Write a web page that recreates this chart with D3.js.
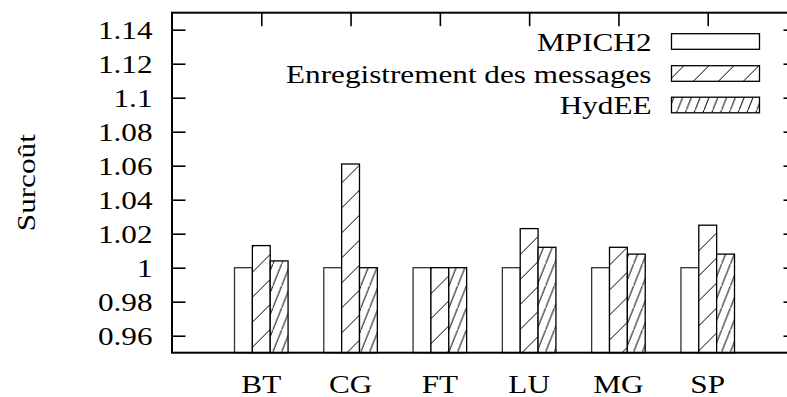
<!DOCTYPE html>
<html>
<head>
<meta charset="utf-8">
<script src="https://cdn.jsdelivr.net/npm/d3@7"></script>
<style>
  html, body { margin: 0; padding: 0; background: #fff; }
  svg { display: block; }
  text { font-family: "Liberation Serif", "Times New Roman", serif; fill: #000; }
</style>
</head>
<body>
<svg id="chart" width="787" height="397"></svg>
<script>
// Benchmarks and normalised overhead for each implementation
const categories = ["BT", "CG", "FT", "LU", "MG", "SP"];
const seriesNames = ["MPICH2", "Enregistrement des messages", "HydEE"];
const mpich2   = [1.000, 1.000, 1.000, 1.000, 1.000, 1.000];
const msgLog   = [1.013, 1.061, 1.000, 1.023, 1.012, 1.025];
const hydee    = [1.004, 1.000, 1.000, 1.012, 1.008, 1.008];
const yTickValues = [0.96, 0.98, 1.00, 1.02, 1.04, 1.06, 1.08, 1.10, 1.12, 1.14];
const yTickLabels = ["0.96", "0.98", "1", "1.02", "1.04", "1.06", "1.08", "1.1", "1.12", "1.14"];
const yTitle = "Surcoût";

const series = [mpich2, msgLog, hydee];

const svg = d3.select("#chart");
const plotL = 172, plotR = 797, plotT = 12.7, plotB = 352.7;
const FS = 26, SX = 1.2;   // serif text, slightly widened
const tickLen = 13.5;

const x = d3.scaleLinear().domain([-1, 6]).range([plotL, plotR]);
const y = d3.scaleLinear().domain([0.95, 1.15]).range([plotB, plotT]);
const barW = 0.2;

// Hatch patterns
const defs = svg.append("defs");
function hatch(id, w, h, ox, sw) {
  const p = defs.append("pattern")
    .attr("id", id).attr("patternUnits", "userSpaceOnUse")
    .attr("x", ox).attr("y", 0).attr("width", w).attr("height", h);
  p.append("rect").attr("width", w).attr("height", h).attr("fill", "#fff");
  p.append("path")
    .attr("d", `M${-w},${2 * h} L${2 * w},${-h}`)
    .attr("stroke", "#000").attr("stroke-width", sw).attr("fill", "none");
}
hatch("hatchSparse", 25, 25, -0.4, 1);
hatch("hatchDense", 8.8, 22, 0, 1);
const fills = ["#fff", "url(#hatchSparse)", "url(#hatchDense)"];
const strokes = ["#333", "#000", "#000"];

// Bars
series.forEach((vals, s) => {
  svg.append("g").selectAll("rect")
    .data(vals)
    .join("rect")
    .attr("x", (d, i) => x(i + (s - 1.5) * barW))
    .attr("width", x(barW) - x(0))
    .attr("y", d => y(d))
    .attr("height", d => y(0.95) - y(d))
    .attr("fill", fills[s])
    .attr("stroke", strokes[s])
    .attr("stroke-width", 1.3);
});

// Axes: ticks drawn inward on three sides
const axisStyle = g => {
  g.select(".domain").remove();
  g.selectAll("line").attr("stroke", "#000").attr("stroke-width", 1.6);
  g.selectAll("text").remove();
};
svg.append("g").attr("transform", `translate(${plotL},0)`)
  .call(d3.axisLeft(y).tickValues(yTickValues).tickSize(-tickLen).tickSizeOuter(0))
  .call(axisStyle);
svg.append("g").attr("transform", `translate(${plotR},0)`)
  .call(d3.axisRight(y).tickValues(yTickValues).tickSize(-tickLen).tickSizeOuter(0))
  .call(axisStyle);
svg.append("g").attr("transform", `translate(0,${plotT})`)
  .call(d3.axisTop(x).tickValues(d3.range(categories.length)).tickSize(-tickLen).tickSizeOuter(0))
  .call(axisStyle);

// Frame
svg.append("rect")
  .attr("x", plotL).attr("y", plotT)
  .attr("width", plotR - plotL).attr("height", plotB - plotT)
  .attr("fill", "none").attr("stroke", "#000").attr("stroke-width", 2);

// Y tick labels
svg.append("g").selectAll("text")
  .data(yTickValues)
  .join("text")
  .attr("transform", d => `translate(152.5,${y(d) + 9.5}) scale(${SX},1)`)
  .attr("text-anchor", "end")
  .attr("font-size", FS)
  .text((d, i) => yTickLabels[i]);

// X category labels
svg.append("g").selectAll("text")
  .data(categories)
  .join("text")
  .attr("transform", (d, i) => `translate(${x(i)},392.5) scale(${SX},1)`)
  .attr("text-anchor", "middle")
  .attr("font-size", FS)
  .text(d => d);

// Y axis title
svg.append("text")
  .attr("transform", `translate(35,${(plotT + plotB) / 2}) rotate(-90) scale(${SX},1)`)
  .attr("text-anchor", "middle")
  .attr("font-size", FS)
  .text(yTitle);

// Legend
const legendRowY = [41.5, 73.5, 105];
const legend = svg.append("g");
seriesNames.forEach((name, s) => {
  const cy = legendRowY[s];
  legend.append("text")
    .attr("transform", `translate(651.5,${cy + 9}) scale(${SX},1)`)
    .attr("text-anchor", "end")
    .attr("font-size", FS)
    .text(name);
  legend.append("rect")
    .attr("x", 671.5).attr("y", cy - 7.8)
    .attr("width", 88).attr("height", 15.6)
    .attr("fill", fills[s])
    .attr("stroke", "#000")
    .attr("stroke-width", 1.3);
});
</script>
</body>
</html>
